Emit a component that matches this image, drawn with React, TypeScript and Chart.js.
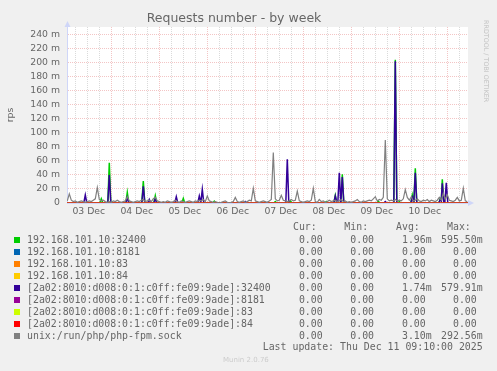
import React, { useEffect, useRef } from 'react';
import { Chart, registerables } from 'chart.js';

Chart.register(...registerables);

// ---------- text ----------
const TITLE = 'Requests number - by week';
const Y_LABEL = 'rps';
const DAY_LABELS = ['03 Dec', '04 Dec', '05 Dec', '06 Dec', '07 Dec', '08 Dec', '09 Dec', '10 Dec'];
const Y_TICKS = [0, 10, 20, 30, 40, 50, 60, 70, 80, 90, 100, 110, 120, 130, 140, 150, 160, 170, 180, 190, 200, 210, 220, 230, 240, 250];
const LAST_UPDATE = 'Last update: Thu Dec 11 09:10:00 2025';
const VERSION = 'Munin 2.0.76';
const SIDE_TEXT = 'RRDTOOL / TOBI OETIKER';

// time axis: hours since 03 Dec 00:00
const X_MIN = 1.85;
const X_MAX = 202.35;
const Y_MAX = 251.4; // milli-requests per second

// ---------- series ----------
const SERIES_NAMES = [
  '192.168.101.10:32400',
  '192.168.101.10:8181',
  '192.168.101.10:83',
  '192.168.101.10:84',
  '[2a02:8010:d008:0:1:c0ff:fe09:9ade]:32400',
  '[2a02:8010:d008:0:1:c0ff:fe09:9ade]:8181',
  '[2a02:8010:d008:0:1:c0ff:fe09:9ade]:83',
  '[2a02:8010:d008:0:1:c0ff:fe09:9ade]:84',
  'unix:/run/php/php-fpm.sock',
];
const SERIES_COLORS = ['#00CC00', '#0066B3', '#FF8000', '#FFCC00', '#330099', '#990099', '#CCFF00', '#FF0000', '#808080'];

const CUR = ['0.00 ', '0.00 ', '0.00 ', '0.00 ', '0.00 ', '0.00 ', '0.00 ', '0.00 ', '0.00 '];
const MIN = ['0.00 ', '0.00 ', '0.00 ', '0.00 ', '0.00 ', '0.00 ', '0.00 ', '0.00 ', '0.00 '];
const AVG = ['1.96m', '0.00 ', '0.00 ', '0.00 ', '1.74m', '0.00 ', '0.00 ', '0.00 ', '3.10m'];
const MAX = ['595.50m', '0.00 ', '0.00 ', '0.00 ', '579.91m', '0.00 ', '0.00 ', '0.00 ', '292.56m'];

// 192.168.101.10:32400 (green) – hour, value (m)
const greenHours = [
  1.85,
  18.25, 19, 19.75,
  22.25, 23, 23.75,
  31.25, 32, 32.75,
  39.25, 40, 40.75,
  45.25, 46, 46.75,
  59.25, 60, 60.75,
  74.75, 75.5, 76.25,
  105.25, 106, 106.75,
  112.75, 113.5, 114.25,
  130.75, 131.5, 132.25,
  135.25, 136, 136.75,
  138.75, 139.5, 140.25,
  156.75, 157.5, 158.25,
  165.25, 166, 166.75,
  167.25, 168, 168.75,
  173.75, 174.5, 175.25,
  175.25, 176, 176.75,
  187.75, 188.5, 189, 189.5, 190.25,
  202.35,
];
const greenValues = [
  0,
  0, 6, 0,
  0, 57.6, 0,
  0, 15.3, 0,
  0, 31.4, 0,
  0, 10.5, 0,
  0, 6.5, 0,
  0, 2.5, 0,
  0, 2, 0,
  0, 3, 0,
  0, 2, 0,
  0, 11, 0,
  0, 41, 0,
  0, 2.5, 0,
  0, 204.5, 0,
  0, 2, 0,
  0, 11.4, 0,
  0, 49.5, 0,
  0, 6, 4, 34, 0,
  0,
];

// [2a02:...]:32400 (indigo) – hour, value (m)
const indigoHours = [
  1.85,
  10.25, 11, 11.75,
  22.25, 23, 23.75,
  31.25, 32, 32.75,
  39.25, 40, 40.75,
  42.25, 43, 43.75,
  45.25, 46, 46.75,
  55.75, 56.5, 57.25,
  67.25, 68, 68.75, 68.75, 69.5, 70.25,
  90.25, 91, 91.75,
  111.25, 112, 112.75,
  135.25, 136, 136.75, 137.25, 138, 138.75, 138.75, 139.5, 140.25,
  160.25, 161, 161.75,
  165.25, 166, 166.75,
  173.75, 174.5, 175.25, 175.25, 176, 176.75,
  187.75, 188.5, 189, 189.5, 190.25, 190.75, 191.5, 192.25,
  202.35,
];
const indigoValues = [
  0,
  0, 11.4, 0,
  0, 40, 0,
  0, 8, 0,
  0, 24, 0,
  0, 5, 0,
  0, 6, 0,
  0, 9, 0,
  0, 10, 0, 0, 19.5, 0,
  0, 2, 0,
  0, 62.5, 0,
  0, 10, 0, 0, 43, 0, 0, 37, 0,
  0, 2, 0,
  0, 202.5, 0,
  0, 8, 0, 0, 43, 0,
  0, 5, 3, 28, 0, 0, 29, 0,
  0,
];

// unix:/run/php/php-fpm.sock (gray) – one value per hour from hour 2
const GRAY_START_HOUR = 2;
const grayValues = [
  3, 13, 4, 2, 3, 1, 2, 3, 2, 1, 2, 3, 2, 4, 6, 22, 5, 3, 4, 2, 1, 2,
  1, 3, 2, 4, 2, 1, 2, 3, 9, 3, 2, 1, 2, 3, 2, 4, 5, 2, 3, 4, 2, 6, 8, 3,
  2, 1, 2, 1, 3, 2, 1, 2, 4, 2, 1, 3, 2, 1, 2, 3, 2, 1, 3, 2, 4, 3, 5, 2,
  10, 3, 2, 1, 2, 1, 0, 1, 2, 3, 1, 0, 1, 2, 8, 2, 1, 2, 3, 1, 2, 4, 3, 21,
  3, 2, 1, 2, 3, 2, 1, 3, 5, 72, 6, 3, 4, 11, 4, 3, 2, 3, 5, 3, 4, 17, 3, 2,
  1, 2, 3, 2, 4, 21, 2, 1, 5, 2, 3, 1, 2, 4, 2, 3, 4, 2, 3, 5, 2, 3, 1, 2,
  1, 2, 3, 5, 2, 1, 3, 2, 3, 4, 3, 6, 9, 3, 5, 4, 8, 90, 6, 3, 4, 3, 5, 3,
  4, 3, 6, 19, 8, 4, 9, 3, 4, 6, 3, 2, 4, 3, 5, 2, 4, 3, 2, 4, 8, 4, 14, 5,
  12, 4, 3, 2, 4, 8, 3, 4, 21, 3, 2,
];

// series that stay at zero all week
const zeroHours = [X_MIN, X_MAX];
const zeroValues = [0, 0];

// ---------- styling ----------
const FONT_COLOR = '#666666';
const AXIS_COLOR = '#CFD6F8';
const GRID_COLOR = 'rgba(150,150,150,0.35)';
const MGRID_COLOR = 'rgba(222,90,90,0.35)';
const TICK_FONT = { family: 'DejaVu Sans', size: 9.3 };
const MONO = '"DejaVu Sans Mono", monospace';
const SPIKE_LINE_WIDTH = 1.5;
const GRAY_LINE_WIDTH = 1.2;
const ZERO_LINE_WIDTH = 1;

const LABEL_SHIFT = 0.75; // day labels sit slightly right of noon
const gridHours: number[] = [];
for (let h = 6; h < X_MAX; h += 6) if (h > X_MIN) gridHours.push(h);
const labelHours = DAY_LABELS.map((_, i) => i * 24 + 12 + LABEL_SHIFT);

const toPoints = (xs: number[], ys: number[]) => xs.map((x, i) => ({ x, y: ys[i] }));

function buildDatasets() {
  const grayPoints = grayValues.map((y, i) => ({ x: GRAY_START_HOUR + i, y }));
  const dataBySeries = [
    toPoints(greenHours, greenValues),
    toPoints(zeroHours, zeroValues),
    toPoints(zeroHours, zeroValues),
    toPoints(zeroHours, zeroValues),
    toPoints(indigoHours, indigoValues),
    toPoints(zeroHours, zeroValues),
    toPoints(zeroHours, zeroValues),
    toPoints(zeroHours, zeroValues),
    grayPoints,
  ];
  const widths = [
    SPIKE_LINE_WIDTH, ZERO_LINE_WIDTH, ZERO_LINE_WIDTH, ZERO_LINE_WIDTH,
    SPIKE_LINE_WIDTH, ZERO_LINE_WIDTH, ZERO_LINE_WIDTH, ZERO_LINE_WIDTH,
    GRAY_LINE_WIDTH,
  ];
  return dataBySeries.map((data, i) => ({
    label: SERIES_NAMES[i],
    data,
    borderColor: SERIES_COLORS[i],
    backgroundColor: SERIES_COLORS[i],
    borderWidth: widths[i],
    borderJoinStyle: 'miter',
    pointRadius: 0,
    fill: false,
    tension: 0,
    order: SERIES_NAMES.length - 1 - i,
  }));
}

const canvasBgPlugin = {
  id: 'canvasBg',
  beforeDraw(chart: any) {
    const { ctx, chartArea: a } = chart;
    ctx.save();
    ctx.fillStyle = '#FFFFFF';
    ctx.fillRect(a.left, a.top, a.right - a.left, a.bottom - a.top);
    ctx.restore();
  },
};

const arrowPlugin = {
  id: 'arrows',
  afterDraw(chart: any) {
    const { ctx, chartArea: a } = chart;
    ctx.save();
    ctx.fillStyle = AXIS_COLOR;
    ctx.beginPath();
    ctx.moveTo(a.left + 0.5, a.top - 6);
    ctx.lineTo(a.left - 2.5, a.top);
    ctx.lineTo(a.left + 3.5, a.top);
    ctx.closePath();
    ctx.fill();
    ctx.beginPath();
    ctx.moveTo(a.right + 6, a.bottom);
    ctx.lineTo(a.right, a.bottom - 3);
    ctx.lineTo(a.right, a.bottom + 3);
    ctx.closePath();
    ctx.fill();
    ctx.restore();
  },
};

export default function App() {
  const ref = useRef<HTMLCanvasElement>(null);

  useEffect(() => {
    document.body.style.margin = '0';
    const canvas = ref.current;
    if (!canvas) return;
    const chart = new Chart(canvas, {
      type: 'line',
      data: { datasets: buildDatasets() as any },
      plugins: [canvasBgPlugin, arrowPlugin],
      options: {
        responsive: false,
        animation: false,
        devicePixelRatio: 1,
        layout: { padding: { left: 0, right: 29, top: 0, bottom: 0 } },
        plugins: {
          legend: { display: false },
          tooltip: { enabled: false },
          title: {
            display: true,
            text: TITLE,
            color: FONT_COLOR,
            font: { family: 'DejaVu Sans', size: 12.5, weight: 'normal', lineHeight: 1 },
            padding: { top: 12, bottom: 2.5 },
          },
        },
        scales: {
          x: {
            type: 'linear',
            min: X_MIN,
            max: X_MAX,
            afterBuildTicks: (s: any) => {
              s.ticks = [...gridHours, ...labelHours].sort((a, b) => a - b).map((v) => ({ value: v }));
            },
            afterFit: (s: any) => {
              s.height = 168;
            },
            ticks: {
              autoSkip: false,
              maxRotation: 0,
              padding: 3,
              color: FONT_COLOR,
              font: TICK_FONT,
              callback: (v: any) => {
                const idx = labelHours.indexOf(Number(v));
                return idx >= 0 ? DAY_LABELS[idx] : '';
              },
            },
            grid: {
              drawTicks: false,
              lineWidth: 1,
              color: (ctx: any) => {
                const v = ctx.tick ? ctx.tick.value : -1;
                if (labelHours.indexOf(v) >= 0) return 'rgba(0,0,0,0)';
                return v % 24 === 0 ? MGRID_COLOR : GRID_COLOR;
              },
            },
            border: { display: true, color: AXIS_COLOR, width: 1, dash: [1, 1] },
          },
          y: {
            type: 'linear',
            min: 0,
            max: Y_MAX,
            afterBuildTicks: (s: any) => {
              s.ticks = Y_TICKS.map((v) => ({ value: v }));
            },
            afterFit: (s: any) => {
              s.width = 67;
            },
            ticks: {
              padding: 7,
              color: FONT_COLOR,
              font: TICK_FONT,
              callback: (v: any) => {
                const n = Number(v);
                if (n % 20 !== 0) return '';
                return n === 0 ? '0' : n + ' m';
              },
            },
            grid: {
              drawTicks: false,
              lineWidth: 1,
              color: (ctx: any) => {
                const v = ctx.tick ? ctx.tick.value : -1;
                if (v === 0) return 'rgba(0,0,0,0)';
                return v % 20 === 0 ? MGRID_COLOR : GRID_COLOR;
              },
            },
            border: { display: true, color: AXIS_COLOR, width: 1, dash: [1, 1] },
            title: {
              display: true,
              text: Y_LABEL,
              color: FONT_COLOR,
              font: { family: 'DejaVu Sans', size: 9.3, lineHeight: 1.2 },
              padding: { top: 5, bottom: 0 },
            },
          },
        },
      } as any,
    });
    return () => chart.destroy();
  }, []);

  const rowTop = (i: number) => 239.7 + 12 * i - 6;
  const colRights = [328.6, 380, 431.7, 482.7];
  const headers = ['Cur:  ', 'Min:  ', 'Avg:  ', 'Max:  '];
  const cols = [CUR, MIN, AVG, MAX];
  const monoText: React.CSSProperties = {
    position: 'absolute',
    fontFamily: MONO,
    fontSize: '9.9px',
    lineHeight: '12px',
    color: FONT_COLOR,
    whiteSpace: 'pre',
  };

  return (
    <div
      style={{
        position: 'absolute',
        left: 0,
        top: 0,
        width: 497,
        height: 371,
        background: '#F0F0F0',
        overflow: 'hidden',
      }}
    >
      <canvas ref={ref} width={497} height={371} style={{ position: 'absolute', left: 0, top: 0, width: 497, height: 371 }} />
      <div
        style={{
          position: 'absolute',
          left: 490,
          top: 20,
          transform: 'rotate(90deg)',
          transformOrigin: '0 0',
          fontFamily: 'DejaVu Sans',
          fontSize: '6.4px',
          lineHeight: '8px',
          color: '#C4C4C4',
          whiteSpace: 'pre',
        }}
      >
        {SIDE_TEXT}
      </div>
      {headers.map((h, c) => (
        <div key={'h' + c} style={{ ...monoText, right: 497 - colRights[c], top: 227.3 - 6 }}>
          {h}
        </div>
      ))}
      {SERIES_NAMES.map((name, i) => (
        <React.Fragment key={name}>
          <div
            style={{
              position: 'absolute',
              left: 14,
              top: 237 + 12 * i,
              width: 6,
              height: 6,
              background: SERIES_COLORS[i],
            }}
          />
          <div style={{ ...monoText, left: 27, top: rowTop(i) }}>{name}</div>
          {cols.map((col, c) => (
            <div key={c} style={{ ...monoText, right: 497 - colRights[c], top: rowTop(i) }}>
              {col[i]}
            </div>
          ))}
        </React.Fragment>
      ))}
      <div style={{ ...monoText, right: 497 - 482.7, top: 347.3 - 6 }}>{LAST_UPDATE}</div>
      <div
        style={{
          position: 'absolute',
          left: 223,
          top: 360 - 5,
          fontFamily: 'DejaVu Sans',
          fontSize: '7px',
          lineHeight: '10px',
          color: '#CCCCCC',
          whiteSpace: 'pre',
        }}
      >
        {VERSION}
      </div>
    </div>
  );
}
